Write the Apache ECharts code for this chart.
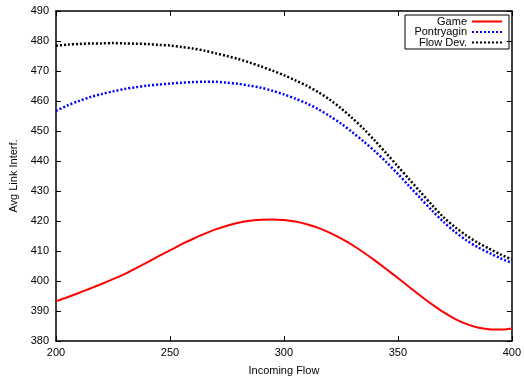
<!DOCTYPE html>
<html>
<head>
<meta charset="utf-8">
<script src="https://cdn.jsdelivr.net/npm/echarts@6/dist/echarts.min.js"></script>
<style>html,body{margin:0;padding:0;background:#fff;}#c{width:524px;height:381px;}</style>
</head>
<body>
<div id="c"></div>
<script>
const flows = [200,205,210,215,220,225,230,235,240,245,250,255,260,265,270,275,280,285,290,295,300,
               305,310,315,320,325,330,335,340,345,350,355,360,365,370,375,380,385,390,395,400];
const game = [393.3,394.6,396.0,397.5,399.0,400.6,402.3,404.2,406.2,408.3,410.2,412.2,414.0,415.7,417.2,418.4,419.4,420.1,420.4,420.5,420.3,
              419.8,418.9,417.7,416.1,414.2,412.0,409.5,406.8,403.9,401.0,398.0,395.0,392.2,389.6,387.4,385.7,384.5,383.9,383.8,384.2];
const pontryagin = [456.7,458.5,460.0,461.3,462.3,463.2,464.0,464.6,465.1,465.5,465.8,466.1,466.3,466.4,466.4,466.1,465.7,465.1,464.4,463.4,462.2,
                    460.8,459.2,457.3,455.0,452.5,449.6,446.5,443.2,439.6,435.7,431.6,427.5,423.5,419.7,416.4,413.6,411.3,409.4,407.6,406.0];
const flowDev = [478.4,478.8,479.0,479.2,479.2,479.3,479.2,479.1,479.0,478.7,478.5,478.0,477.5,476.8,475.9,475.0,474.0,472.8,471.5,470.1,468.6,
                 466.9,465.1,463.0,460.5,457.6,454.3,450.7,446.7,442.5,438.2,433.9,429.6,425.3,421.3,418.0,415.2,412.8,410.8,408.9,407.2];
const seriesNames = ['Game','Pontryagin','Flow Dev.'];
const xTicks = {min:200, max:400, interval:50};
const yTicks = {min:380, max:490, interval:10};

const pair = (ys) => flows.map((x,i)=>[x, ys[i]]);
const font = 'Liberation Sans, Arial, Helvetica, sans-serif';
const axisLine = {show:true, lineStyle:{color:'#000', width:1.5}};
const tick = {show:true, inside:true, length:5, lineStyle:{color:'#000', width:1}};
const chart = echarts.init(document.getElementById('c'), null, {renderer:'canvas'});
chart.setOption({
  animation:false,
  backgroundColor:'#fff',
  textStyle:{fontFamily:font},
  grid:{left:56, right:10, top:11, bottom:37, containLabel:false},
  legend:{
    orient:'vertical', right:15, top:15,
    borderColor:'#000', borderWidth:1,
    padding:[1,6,1,6], itemGap:-0.5,
    itemWidth:30, itemHeight:9, align:'right',
    itemStyle:{opacity:0, borderWidth:0},
    formatter: n => '{a|' + n + '}',
    textStyle:{fontFamily:font, fontSize:11, color:'#000', lineHeight:10,
      rich:{a:{width:56, align:'right', fontSize:11, lineHeight:10, fontFamily:font, color:'#000'}}},
    data: seriesNames
  },
  xAxis:[
    {type:'value', min:xTicks.min, max:xTicks.max, interval:xTicks.interval, position:'bottom',
     name:'Incoming Flow', nameLocation:'middle', nameGap:24,
     nameTextStyle:{fontFamily:font, fontSize:11, color:'#000'},
     axisLine:axisLine, axisTick:tick, splitLine:{show:false},
     axisLabel:{color:'#000', fontSize:11, fontFamily:font, margin:6}},
    {type:'value', min:xTicks.min, max:xTicks.max, interval:xTicks.interval, position:'top',
     axisLine:axisLine, axisTick:tick, splitLine:{show:false}, axisLabel:{show:false}}
  ],
  yAxis:[
    {type:'value', min:yTicks.min, max:yTicks.max, interval:yTicks.interval, position:'left',
     name:'Avg Link Interf.', nameLocation:'middle', nameGap:37, nameRotate:90,
     nameTextStyle:{fontFamily:font, fontSize:11, color:'#000'},
     axisLine:axisLine, axisTick:tick, splitLine:{show:false},
     axisLabel:{color:'#000', fontSize:11, fontFamily:font, margin:7}},
    {type:'value', min:yTicks.min, max:yTicks.max, interval:yTicks.interval, position:'right',
     axisLine:axisLine, axisTick:tick, splitLine:{show:false}, axisLabel:{show:false}}
  ],
  series:[
    {name:seriesNames[0], type:'line', data:pair(game), smooth:0.3, symbol:'none',
     lineStyle:{color:'#ff0000', width:2}, itemStyle:{color:'#ff0000'}},
    {name:seriesNames[1], type:'line', data:pair(pontryagin), smooth:0.3, symbol:'none',
     lineStyle:{color:'#0000ff', width:2.5, type:[2,2]}, itemStyle:{color:'#0000ff'}},
    {name:seriesNames[2], type:'line', data:pair(flowDev), smooth:0.3, symbol:'none',
     lineStyle:{color:'#000000', width:2.5, type:[2,2]}, itemStyle:{color:'#000000'}}
  ]
});
</script>
</body>
</html>
